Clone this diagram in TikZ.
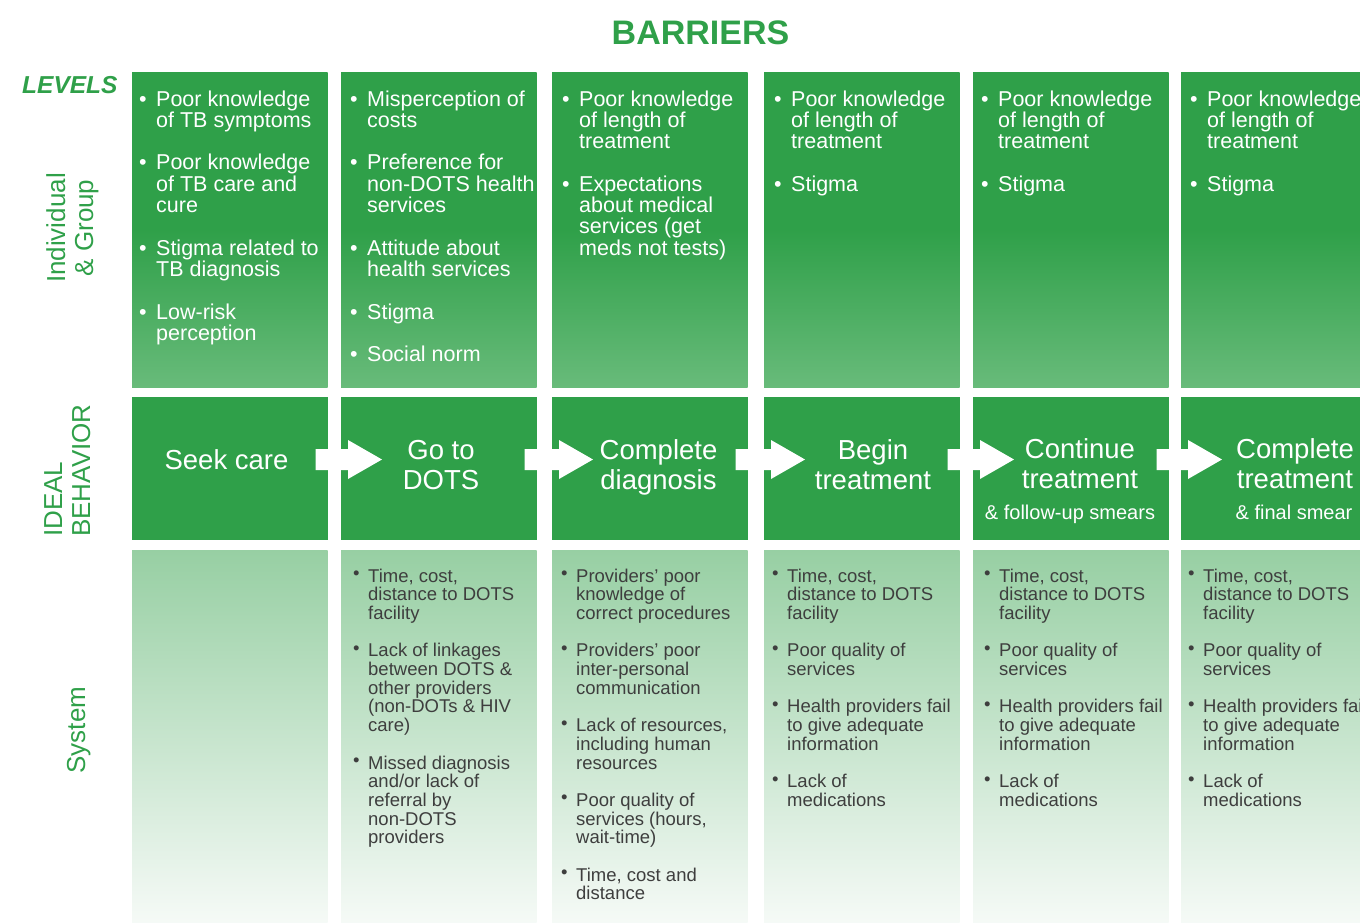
\documentclass[tikz,border=0pt]{standalone}
\usepackage{fontspec}
\setmainfont{Liberation Sans}
\usetikzlibrary{calc}

\definecolor{tbgreen}{RGB}{47,160,73}
\definecolor{tbgreenlight}{RGB}{104,187,122}
\definecolor{systop}{RGB}{151,207,163}
\definecolor{sysbottom}{RGB}{246,250,247}
\definecolor{systext}{RGB}{62,62,62}

% bullets for the two kinds of cells
\newcommand\ibul{\leavevmode\llap{\textbullet\hspace{9.5pt}}}
\newcommand\sbul{\leavevmode\llap{\raisebox{2.5pt}{\textbullet}\hspace{8.5pt}}}
\newcommand\lefttext[1]{\parbox[t]{300pt}{\raggedright #1}}
\newcommand\midtext[1]{\parbox[t]{240pt}{\centering #1}}

% white block arrow from one behaviour box into the next
\newcommand\flowarrow[2]{%
  \fill[arrowbody] let \p1=(#1.east), \p2=(#2.west) in
    (\x1-12pt,\y2+19.5pt) -- (\x2+7pt,\y2+19.5pt) -- (\x2+7pt,\y2+28.5pt)
    -- (\x2+41pt,\y2+9pt) -- (\x2+7pt,\y2-10.5pt) -- (\x2+7pt,\y2-1.5pt)
    -- (\x1-12pt,\y2-1.5pt) -- cycle;}

\tikzset{
  igcell/.style={anchor=north west, inner sep=0, outer sep=0,
    minimum width=195.5pt, minimum height=315pt,
    top color=tbgreen, bottom color=tbgreenlight, middle color=tbgreen},
  behcell/.style={anchor=north west, inner sep=0, outer sep=0,
    minimum width=195.5pt, minimum height=143pt, fill=tbgreen},
  syscell/.style={anchor=north west, inner sep=0, outer sep=0,
    minimum width=195.5pt, minimum height=374pt,
    top color=systop, bottom color=sysbottom},
  igtext/.style={anchor=base west, inner sep=0, text=white,
    font=\fontsize{21.5}{21.3}\selectfont},
  systxt/.style={anchor=base west, inner sep=0, text=systext,
    font=\fontsize{18.5}{18.7}\selectfont},
  behtext/.style={anchor=base, inner sep=0, text=white,
    font=\fontsize{27.5}{30}\selectfont},
  behsub/.style={anchor=base, inner sep=0, text=white,
    font=\fontsize{20}{22}\selectfont},
  levellabel/.style={rotate=90, inner sep=0, text=tbgreen,
    font=\fontsize{26}{28}\selectfont},
  arrowbody/.style={fill=white},
}

\begin{document}
\begin{tikzpicture}[x=1pt,y=-1pt]
\useasboundingbox (0,0) rectangle (1360,922);
\clip (0,0) rectangle (1360,922);

% heading and row labels
\node[anchor=base, inner sep=0, text=tbgreen, font=\fontsize{34}{36}\selectfont\bfseries]
  (title) at (700.5,44) {BARRIERS};
\node[anchor=base west, inner sep=0, text=tbgreen, font=\fontsize{24.5}{26}\selectfont\bfseries\itshape]
  (levels) at (22,93.5) {LEVELS};
\node[levellabel, anchor=base] (lblig) at (65,228)
  {\midtext{Individual\\\& Group}};
\node[levellabel, anchor=base west] (lblbeh) at (62,537)
  {\lefttext{IDEAL\\BEHAVIOR}};
\node[levellabel, anchor=base] (lblsys) at (85,730) {System};

% the three rows of cells
\foreach \i/\x in {1/132,2/341,3/552,4/764,5/973,6/1181} {
  \node[igcell] (ig\i) at (\x,72) {};
  \node[behcell] (beh\i) at (\x,397) {};
  \node[syscell] (sys\i) at (\x,550) {};
}

% individual & group barriers
\node[igtext] (igt1) at (156,106) {\lefttext{%
  \ibul Poor knowledge\\of TB symptoms\\[\baselineskip]
  \ibul Poor knowledge\\of TB care and\\cure\\[\baselineskip]
  \ibul Stigma related to\\TB diagnosis\\[\baselineskip]
  \ibul Low-risk\\perception}};
\node[igtext] (igt2) at (367,106) {\lefttext{%
  \ibul Misperception of\\costs\\[\baselineskip]
  \ibul Preference for\\non-DOTS health\\services\\[\baselineskip]
  \ibul Attitude about\\health services\\[\baselineskip]
  \ibul Stigma\\[\baselineskip]
  \ibul Social norm}};
\node[igtext] (igt3) at (579,106) {\lefttext{%
  \ibul Poor knowledge\\of length of\\treatment\\[\baselineskip]
  \ibul Expectations\\about medical\\services (get\\meds not tests)}};
\foreach \i/\x in {4/791,5/998,6/1207} {
  \node[igtext] (igt\i) at (\x,106) {\lefttext{%
    \ibul Poor knowledge\\of length of\\treatment\\[\baselineskip]
    \ibul Stigma}};
}

% ideal behaviour steps
\node[behtext] (bt1) at (226.5,469) {Seek care};
\node[behtext] (bt2) at (441,459) {\midtext{Go to\\DOTS}};
\node[behtext] (bt3) at (658.5,459) {\midtext{Complete\\diagnosis}};
\node[behtext] (bt4) at (873,459) {\midtext{Begin\\treatment}};
\node[behtext] (bt5) at (1080,458.5) {\midtext{Continue\\treatment}};
\node[behtext] (bt6) at (1295,458.5) {\midtext{Complete\\treatment}};
\node[behsub] (bs5) at (1070,519) {\& follow-up smears};
\node[behsub] (bs6) at (1294,519) {\& final smear};

\flowarrow{beh1}{beh2}
\flowarrow{beh2}{beh3}
\flowarrow{beh3}{beh4}
\flowarrow{beh4}{beh5}
\flowarrow{beh5}{beh6}

% system barriers
\node[systxt] (st2) at (368,582) {\lefttext{%
  \sbul Time, cost,\\distance to DOTS\\facility\\[\baselineskip]
  \sbul Lack of linkages\\between DOTS \&\\other providers\\(non-DOTs \& HIV\\care)\\[\baselineskip]
  \sbul Missed diagnosis\\and/or lack of\\referral by\\non-DOTS\\providers}};
\node[systxt] (st3) at (576,582) {\lefttext{%
  \sbul Providers’ poor\\knowledge of\\correct procedures\\[\baselineskip]
  \sbul Providers’ poor\\inter-personal\\communication\\[\baselineskip]
  \sbul Lack of resources,\\including human\\resources\\[\baselineskip]
  \sbul Poor quality of\\services (hours,\\wait-time)\\[\baselineskip]
  \sbul Time, cost and\\distance}};
\foreach \i/\x in {4/787,5/999,6/1203} {
  \node[systxt] (st\i) at (\x,582) {\lefttext{%
    \sbul Time, cost,\\distance to DOTS\\facility\\[\baselineskip]
    \sbul Poor quality of\\services\\[\baselineskip]
    \sbul Health providers fail\\to give adequate\\information\\[\baselineskip]
    \sbul Lack of\\medications}};
}
\end{tikzpicture}
\end{document}
